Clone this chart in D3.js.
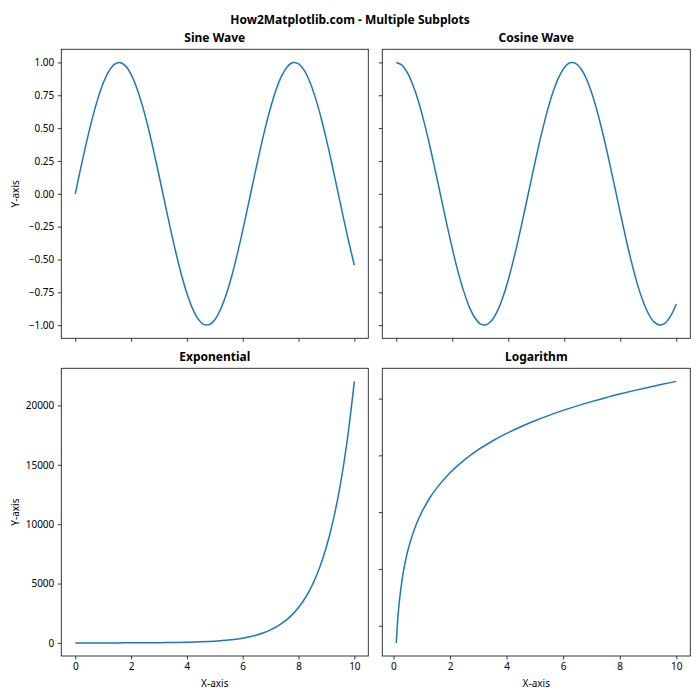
<!DOCTYPE html>
<html><head><meta charset="utf-8">
<script src="https://cdn.jsdelivr.net/npm/d3@7"></script>
<style>body{margin:0;background:#fff}svg{display:block}text{font-family:"Noto Sans",sans-serif;fill:#000}</style>
</head><body><svg id="c" width="700" height="700"></svg>
<script>
const suptitle = "How2Matplotlib.com - Multiple Subplots";
const titles = ["Sine Wave", "Cosine Wave", "Exponential", "Logarithm"];
const xWave = [0,0.2,0.4,0.6,0.8,1,1.2,1.4,1.6,1.8,2,2.2,2.4,2.6,2.8,3,3.2,3.4,3.6,3.8,4,4.2,4.4,4.6,4.8,5,5.2,5.4,5.6,5.8,6,6.2,6.4,6.6,6.8,7,7.2,7.4,7.6,7.8,8,8.2,8.4,8.6,8.8,9,9.2,9.4,9.6,9.8,10];
const sineY = [0,0.199,0.389,0.565,0.717,0.841,0.932,0.985,1.0,0.974,0.909,0.808,0.675,0.516,0.335,0.141,-0.058,-0.256,-0.443,-0.612,-0.757,-0.872,-0.952,-0.994,-0.996,-0.959,-0.883,-0.773,-0.631,-0.465,-0.279,-0.083,0.117,0.312,0.494,0.657,0.794,0.899,0.968,0.999,0.989,0.941,0.855,0.734,0.585,0.412,0.223,0.025,-0.174,-0.366,-0.544];
const cosY = [1,0.980,0.921,0.825,0.697,0.540,0.362,0.170,-0.029,-0.227,-0.416,-0.589,-0.737,-0.857,-0.942,-0.990,-0.998,-0.967,-0.897,-0.791,-0.654,-0.490,-0.307,-0.112,0.087,0.284,0.469,0.635,0.776,0.886,0.960,0.997,0.993,0.950,0.870,0.754,0.608,0.438,0.251,0.054,-0.146,-0.340,-0.520,-0.680,-0.811,-0.911,-0.975,-0.999,-0.984,-0.930,-0.839];
const xExp = [0,0.5,1,1.5,2,2.5,3,3.5,4,4.5,5,5.5,6,6.25,6.5,6.75,7,7.25,7.5,7.75,8,8.25,8.5,8.75,9,9.25,9.5,9.75,10];
const expY = [1,1.65,2.72,4.48,7.39,12.2,20.1,33.1,54.6,90,148,245,403,518,665,854,1097,1408,1808,2322,2981,3827,4915,6310,8103,10405,13360,17154,22026];
const xLog = [0.1,0.15,0.2,0.3,0.4,0.5,0.6,0.8,1,1.25,1.5,2,2.5,3,3.5,4,4.5,5,5.5,6,6.5,7,7.5,8,8.5,9,9.5,10];
const logY = [-2.303,-1.897,-1.609,-1.204,-0.916,-0.693,-0.511,-0.223,0,0.223,0.405,0.693,0.916,1.099,1.253,1.386,1.504,1.609,1.705,1.792,1.872,1.946,2.015,2.079,2.140,2.197,2.251,2.303];
const xTicks = [0,2,4,6,8,10];
const waveTicks = [-1,-0.75,-0.5,-0.25,0,0.25,0.5,0.75,1];
const expTicks = [0,5000,10000,15000,20000];
const logTicks = [-2,-1,0,1,2];
const xLabel = "X-axis", yLabel = "Y-axis";

const svg = d3.select("#c");
const color = "#1f77b4";
const cols = [[61.3,368.3],[382.3,690.3]];
const rows = [[49.3,338.3],[368.3,656]];

function pad(ext){const d=(ext[1]-ext[0])*0.05;return [ext[0]-d,ext[1]+d];}

const panels = [
 {r:0,c:0,x:xWave,y:sineY,yt:waveTicks,fmt:d3.format(".2f"),xl:false,yl:true},
 {r:0,c:1,x:xWave,y:cosY,yt:waveTicks,fmt:d3.format(".2f"),xl:false,yl:false},
 {r:1,c:0,x:xExp,y:expY,yt:expTicks,fmt:d3.format("d"),xl:true,yl:true},
 {r:1,c:1,x:xLog,y:logY,yt:logTicks,fmt:d3.format("d"),xl:true,yl:false}
];
const waveDom = pad([-1,1]);

panels.forEach((p,i)=>{
  const [x0,x1]=cols[p.c],[y0,y1]=rows[p.r];
  const xs=d3.scaleLinear().domain(pad(d3.extent(p.x))).range([x0,x1]);
  const ydom = p.r===0 ? waveDom : pad(d3.extent(p.y));
  const ys=d3.scaleLinear().domain(ydom).range([y1,y0]);
  const g=svg.append("g");
  const line=d3.line().x((d,j)=>xs(p.x[j])).y(d=>ys(d)).curve(d3.curveCatmullRom.alpha(0.5));
  g.append("path").datum(p.y).attr("d",line).attr("fill","none").attr("stroke",color).attr("stroke-width",1.5);
  g.append("rect").attr("x",x0).attr("y",y0).attr("width",x1-x0).attr("height",y1-y0)
   .attr("fill","none").attr("stroke","#222").attr("stroke-width",0.9);
  const xa=g.append("g").attr("transform",`translate(0,${y1})`)
   .call(d3.axisBottom(xs).tickValues(xTicks).tickSize(3.5).tickPadding(3.5).tickFormat(p.xl?d3.format("d"):()=>""));
  const ya=g.append("g").attr("transform",`translate(${x0},0)`)
   .call(d3.axisLeft(ys).tickValues(p.yt).tickSize(3.5).tickPadding(3.5).tickFormat(p.yl?p.fmt:()=>""));
  [xa,ya].forEach(a=>{a.select(".domain").remove();a.selectAll(".tick line").attr("stroke","#222").attr("stroke-width",0.9);
    a.selectAll("text").attr("font-size",10).attr("font-family","Noto Sans").attr("fill","#222");});
  g.append("text").attr("x",(x0+x1)/2).attr("y",y0-7).attr("text-anchor","middle")
   .attr("font-size",12).attr("font-weight","bold").text(titles[i]);
  if(p.xl) g.append("text").attr("x",(x0+x1)/2).attr("y",687).attr("text-anchor","middle").attr("font-size",10).attr("fill","#222").text(xLabel);
  if(p.yl) g.append("text").attr("transform",`translate(19,${(y0+y1)/2}) rotate(-90)`).attr("text-anchor","middle").attr("font-size",10).attr("fill","#222").text(yLabel);
});
svg.append("text").attr("x",350).attr("y",24).attr("text-anchor","middle").attr("font-size",12).attr("font-weight","bold").text(suptitle);
</script></body></html>
